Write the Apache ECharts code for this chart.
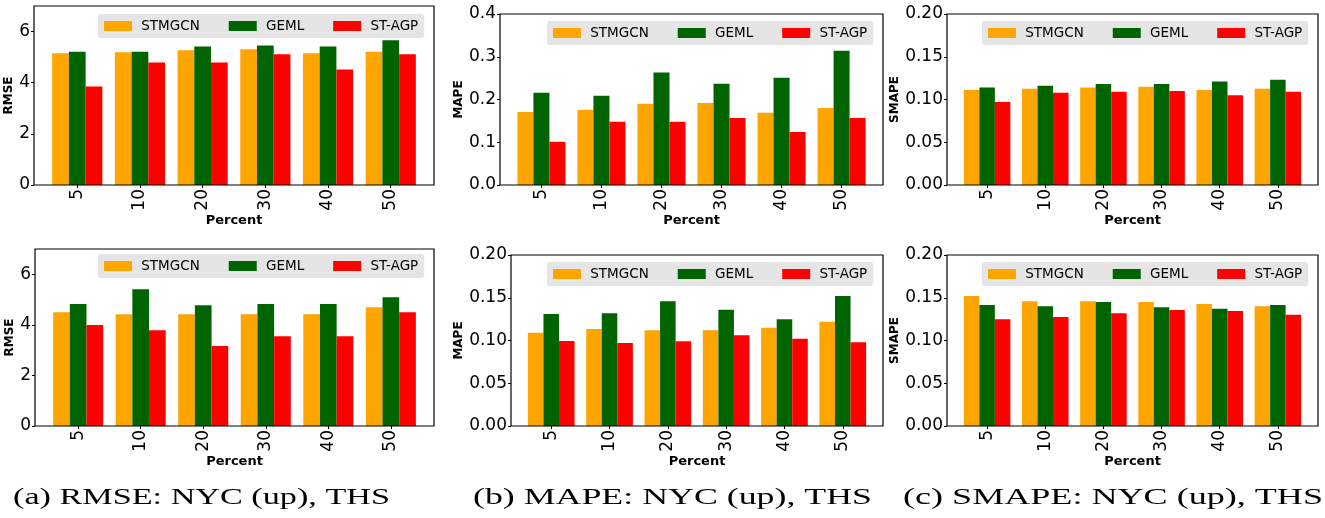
<!DOCTYPE html>
<html>
<head>
<meta charset="utf-8">
<script src="https://cdn.jsdelivr.net/npm/echarts@6/dist/echarts.min.js"></script>
<style>
    html, body { margin: 0; padding: 0; background: #fff; }
    #main { width: 1325px; height: 518px; }
</style>
</head>
<body>
<div id="main"></div>
<script>
    // x categories and series names
    var percents = ['5', '10', '20', '30', '40', '50'];
    var methods = ['STMGCN', 'GEML', 'ST-AGP'];
    var colors = ['#FFA500', '#006400', '#FF0000'];

    // NYC (upper row), one row per method: STMGCN, GEML, ST-AGP
    var nycRmse = [
        [5.15, 5.19, 5.27, 5.31, 5.15, 5.21],
        [5.21, 5.21, 5.42, 5.46, 5.42, 5.66],
        [3.85, 4.79, 4.79, 5.11, 4.52, 5.11]
    ];
    var nycMape = [
        [0.171, 0.176, 0.190, 0.192, 0.169, 0.180],
        [0.216, 0.209, 0.263, 0.237, 0.251, 0.314],
        [0.101, 0.148, 0.148, 0.157, 0.124, 0.157]
    ];
    var nycSmape = [
        [0.111, 0.1125, 0.114, 0.115, 0.111, 0.1125],
        [0.114, 0.116, 0.118, 0.118, 0.121, 0.123],
        [0.097, 0.108, 0.109, 0.110, 0.105, 0.109]
    ];
    // THS (lower row)
    var thsRmse = [
        [4.50, 4.42, 4.42, 4.42, 4.42, 4.70],
        [4.82, 5.41, 4.78, 4.82, 4.82, 5.09],
        [3.99, 3.79, 3.16, 3.55, 3.55, 4.50]
    ];
    var thsMape = [
        [0.109, 0.1135, 0.112, 0.112, 0.115, 0.122],
        [0.131, 0.132, 0.146, 0.136, 0.125, 0.152],
        [0.0994, 0.097, 0.099, 0.106, 0.102, 0.098]
    ];
    var thsSmape = [
        [0.152, 0.146, 0.146, 0.145, 0.1427, 0.140],
        [0.1415, 0.140, 0.145, 0.139, 0.137, 0.1415],
        [0.125, 0.1275, 0.132, 0.1357, 0.1345, 0.130]
    ];

    var rmseTicks = [0, 2, 4, 6];
    var mapeTopTicks = [0, 0.1, 0.2, 0.3, 0.4];
    var smallTicks = [0, 0.05, 0.1, 0.15, 0.2];

    var captions = ['(a) RMSE: NYC (up), THS', '(b) MAPE: NYC (up), THS', '(c) SMAPE: NYC (up), THS'];

    // layout of each panel: frame [left, right, top, bottom], legend [left, top]
    var panels = [
        {data: nycRmse, name: 'RMSE', max: 7, ticks: rmseTicks, dec: 0, box: [34, 434, 6, 185], gap: 15, lg: [98, 14]},
        {data: nycMape, name: 'MAPE', max: 0.4, ticks: mapeTopTicks, dec: 1, box: [500, 883, 14, 185], gap: 32, lg: [547, 21]},
        {data: nycSmape, name: 'SMAPE', max: 0.2, ticks: smallTicks, dec: 2, box: [947, 1318, 14, 185], gap: 43, lg: [982, 21]},
        {data: thsRmse, name: 'RMSE', max: 7, ticks: rmseTicks, dec: 0, box: [35, 434, 249, 426], gap: 16, lg: [98, 254]},
        {data: thsMape, name: 'MAPE', max: 0.2, ticks: smallTicks, dec: 2, box: [511, 883, 255, 426], gap: 43, lg: [547, 262]},
        {data: thsSmape, name: 'SMAPE', max: 0.2, ticks: smallTicks, dec: 2, box: [947, 1318, 255, 426], gap: 43, lg: [982, 262]}
    ];

    var FONT = 'DejaVu Sans';
    var grid = [], xAxis = [], yAxis = [], series = [], legend = [];

    panels.forEach(function (p, i) {
        var L = p.box[0], R = p.box[1], T = p.box[2], B = p.box[3];
        var W = R - L;
        // matplotlib xlim: bars span -0.4..5.4 plus 5% margins
        var span = 5 + 2 * 0.69;
        var inset = W * (0.69 - 0.5) / span;
        var g0 = 2 * i, g1 = 2 * i + 1;

        // frame grid (carries the border and the y axis)
        grid.push({left: L, top: T, width: W, height: B - T, show: true,
            borderColor: '#000', borderWidth: 1.2, backgroundColor: 'transparent', z: 5});
        // bar grid (category bands)
        grid.push({left: L + inset, top: T, width: W - 2 * inset, height: B - T});

        xAxis.push({gridIndex: g0, type: 'value', show: false, min: 0, max: 1});
        xAxis.push({
            gridIndex: g1, type: 'category', data: percents,
            name: 'Percent', nameLocation: 'middle', nameGap: 26,
            nameTextStyle: {fontFamily: FONT, fontWeight: 'bold', fontSize: 13, color: '#000'},
            axisLine: {show: false},
            axisTick: {show: true, alignWithLabel: true, length: 3, lineStyle: {color: '#000'}},
            axisLabel: {rotate: 90, margin: 4, fontSize: 17, fontFamily: FONT, color: '#000'}
        });

        yAxis.push({
            gridIndex: g0, type: 'value', min: 0, max: p.max,
            name: p.name, nameLocation: 'middle', nameGap: p.gap,
            nameTextStyle: {fontFamily: FONT, fontWeight: 'bold', fontSize: 12, color: '#000'},
            axisLine: {show: false},
            splitLine: {show: false},
            axisTick: {show: true, length: 3, customValues: p.ticks, lineStyle: {color: '#000'}},
            axisLabel: {customValues: p.ticks, margin: 4, fontSize: 17, fontFamily: FONT, color: '#000',
                formatter: function (v) { return v.toFixed(p.dec); }}
        });
        yAxis.push({gridIndex: g1, type: 'value', min: 0, max: p.max, show: false, splitLine: {show: false}});

        methods.forEach(function (m, k) {
            series.push({
                type: 'bar', name: m, xAxisIndex: g1, yAxisIndex: g1,
                data: p.data[k], barWidth: '26.67%', barGap: '0%',
                itemStyle: {color: colors[k]}
            });
        });

        legend.push({
            left: p.lg[0], top: p.lg[1], orient: 'horizontal', data: methods,
            icon: 'rect', itemWidth: 28, itemHeight: 10, itemGap: 29,
            padding: [5, 6, 5, 6], backgroundColor: '#e5e5e5', borderRadius: 3,
            selectedMode: false,
            formatter: function (n) { return ' ' + n; },
            textStyle: {fontFamily: FONT, fontSize: 13.5, color: '#000', lineHeight: 14}
        });
    });

    // captions under each column (serif, stretched like the source figure)
    var capX = [13, 473, 903];
    var capW = [377, 399, 420];
    var capFont = '24px "Liberation Serif"';
    var ctx = document.createElement('canvas').getContext('2d');
    ctx.font = capFont;
    var graphic = captions.map(function (t, i) {
        var w = ctx.measureText(t).width || 260;
        return {
            type: 'text', x: capX[i], y: 498, scaleX: capW[i] / w,
            style: {text: t, x: 0, y: 0, font: capFont, fill: '#000', align: 'left', verticalAlign: 'middle'}
        };
    });

    var myChart = echarts.init(document.getElementById('main'));
    myChart.setOption({
        animation: false,
        backgroundColor: '#fff',
        grid: grid,
        xAxis: xAxis,
        yAxis: yAxis,
        legend: legend,
        series: series,
        graphic: graphic
    });
</script>
</body>
</html>
